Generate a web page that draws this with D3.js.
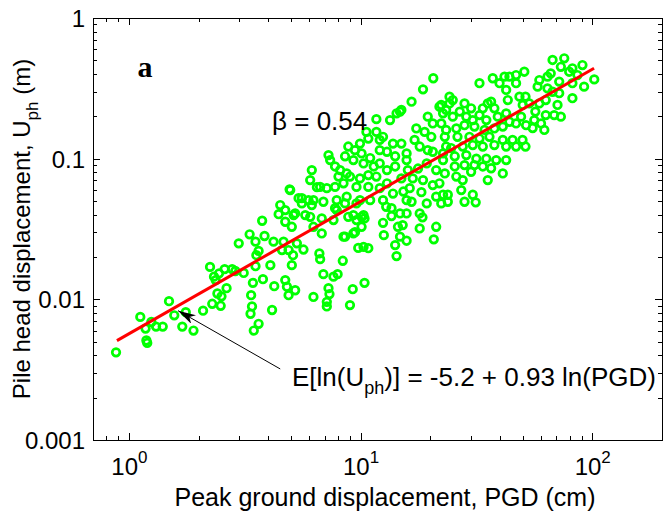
<!DOCTYPE html>
<html>
<head>
<meta charset="utf-8">
<script src="https://cdn.jsdelivr.net/npm/d3@7"></script>
<style>
  body { margin: 0; background: #fff; }
  text { font-family: "Liberation Sans", Arial, sans-serif; fill: #000; }
</style>
</head>
<body>
<div id="chart"></div>
<script>
// scatter: peak ground displacement (cm) vs pile head displacement (m)
const pgd = [
  0.88, 1.12, 1.19, 1.20, 1.18, 1.25, 1.31, 1.40, 1.49, 1.57, 1.70, 1.76,
  1.90, 2.09, 2.24, 2.29, 2.37, 2.41, 2.49, 2.51, 2.33, 2.45, 2.59, 2.64,
  2.79, 2.88, 2.98, 3.13, 3.32, 3.43, 3.37, 3.40, 3.35, 3.46, 3.63, 3.52,
  3.55, 3.63, 3.52, 3.76, 3.79, 3.85, 4.08, 4.15, 4.21, 4.24, 4.43, 4.50,
  4.58, 4.65, 4.73, 4.73, 4.81, 4.89, 4.94, 5.05, 5.14, 5.11, 5.05, 5.22,
  5.31, 5.40, 5.67, 6.26, 6.64, 6.69, 6.80, 6.91, 7.15, 7.15, 7.27, 7.34,
  7.64, 7.96, 8.38, 8.57, 9.00, 9.25, 9.31, 9.77, 10.1, 10.4, 10.3, 10.8,
  10.1, 9.6, 12.5, 12.6, 12.9, 13.6, 14.1, 14.3, 14.5, 14.8, 15.2, 15.8,
  15.8, 18.0, 18.5, 20.7, 21.2, 16.6, 19.3, 23.8, 4.73, 4.89, 5.58, 6.16,
  6.91, 7.76, 8.57, 8.85, 6.06, 5.77, 6.26, 6.80, 7.64, 8.44, 9.6, 10.4,
  9.46, 7.27, 7.39, 6.16, 4.97, 5.58, 5.96, 6.48, 20.6, 18.6, 16.6, 14.8,
  14.3, 13.4, 11.7, 21.9, 22.7, 23.4, 19.5, 20.5, 17.4, 18.9, 17.1, 20.2,
  18.0, 19.5, 20.5, 23.1, 23.4, 22.7, 21.2, 23.1, 10.6, 10.8, 11.7, 12.1,
  12.5, 12.1, 13.0, 13.8, 14.1, 15.0, 15.8, 15.8, 14.1, 16.0, 16.8, 15.0,
  16.3, 15.3, 18.6, 20.5, 18.3, 21.2, 22.3, 19.3, 17.7, 9.94, 9.46, 10.1,
  8.85, 8.57, 9.31, 10.3, 11.0, 11.4, 12.1, 13.0, 11.7, 10.8, 9.94, 8.71,
  7.76, 8.16, 8.03, 9.0, 8.44, 7.76, 9.6, 10.8, 12.1, 13.0, 13.8, 12.5,
  11.0, 9.94, 8.71, 7.89, 7.15, 6.69, 6.06, 6.26, 5.22, 15.8, 13.6, 14.8,
  18.0, 9.31, 10.3, 7.89, 15.0, 22.3, 24.2, 67.4, 75.7, 73.2, 82.1, 90.7,
  79.5, 66.2, 86.3, 102, 92.2, 82.1, 82.1, 72.0, 64.1, 59.1, 58.1, 64.1,
  67.4, 72.0, 70.8, 63.0, 59.1, 56.8, 63.0, 68.5, 73.2, 50.9, 46.9, 43.9,
  41.8, 37.2, 32.6, 42.5, 46.9, 39.8, 43.2, 48.5, 51.5, 53.5, 50.1, 56.2,
  60.1, 55.3, 62.1, 49.3, 46.9, 51.8, 36.6, 35.4, 37.8, 33.7, 32.6, 30.0,
  28.1, 25.0, 24.2, 25.0, 26.8, 28.6, 30.5, 34.9, 39.1, 42.5, 43.9, 41.1,
  37.8, 34.3, 31.0, 28.1, 25.9, 23.4, 22.3, 26.2, 29.5, 32.6, 36.0, 41.1,
  45.3, 50.0, 51.5, 46.9, 42.5, 37.8, 33.7, 30.5, 27.6, 24.6, 22.7, 25.5,
  28.6, 31.6, 34.9, 38.5, 42.5, 25.5, 28.1, 31.0, 33.7, 36.6, 41.1, 35.4,
  25.9, 27.6, 27.2, 30.5, 23.8, 21.9, 30.0, 22.7, 28.1, 31.4
];
const uph = [
  0.0042, 0.0075, 0.0051, 0.0049, 0.0062, 0.0069, 0.0064, 0.0064, 0.0097, 0.0077, 0.0064, 0.0081,
  0.0060, 0.0083, 0.0170, 0.0093, 0.0137, 0.0110, 0.0090, 0.0105, 0.0145, 0.0153, 0.0164, 0.0120,
  0.0164, 0.0159, 0.0250, 0.0154, 0.0290, 0.0131, 0.0107, 0.0089, 0.0079, 0.0060, 0.0067, 0.0257,
  0.0206, 0.0221, 0.0172, 0.0362, 0.0139, 0.0282, 0.0175, 0.0084, 0.0257, 0.0124, 0.0403, 0.0468,
  0.0224, 0.0257, 0.0356, 0.0137, 0.0123, 0.0107, 0.0605, 0.0328, 0.0397, 0.0206, 0.0175, 0.0116,
  0.0250, 0.0524, 0.0226, 0.0104, 0.0212, 0.0193, 0.0294, 0.0151, 0.0089, 0.0096, 0.0120, 0.0109,
  0.0145, 0.0151, 0.0188, 0.0279, 0.0091, 0.0118, 0.0294, 0.0232, 0.0386, 0.0131, 0.0236, 0.0231,
  0.0328, 0.0481, 0.0350, 0.0286, 0.0455, 0.0391, 0.0243, 0.0203, 0.0328, 0.0279, 0.0337, 0.0408,
  0.0261, 0.0319, 0.0383, 0.0267, 0.0328, 0.0494, 0.0481, 0.0494, 0.0431, 0.0224, 0.0481, 0.0468,
  0.0494, 0.0445, 0.0481, 0.0386, 0.0386, 0.0397, 0.0328, 0.0376, 0.0366, 0.0279, 0.0366, 0.0376,
  0.0300, 0.106, 0.0977, 0.0829, 0.0598, 0.0524, 0.0507, 0.0627, 0.373, 0.311, 0.254, 0.216,
  0.210, 0.188, 0.191, 0.234, 0.210, 0.222, 0.199, 0.178, 0.164, 0.155, 0.136, 0.143,
  0.122, 0.115, 0.112, 0.143, 0.122, 0.0977, 0.0829, 0.0785, 0.155, 0.139, 0.155, 0.136,
  0.143, 0.115, 0.112, 0.128, 0.104, 0.128, 0.109, 0.0977, 0.0880, 0.0829, 0.0724, 0.0724,
  0.0617, 0.0584, 0.0704, 0.0649, 0.0578, 0.0537, 0.0481, 0.0925, 0.0851, 0.128, 0.115, 0.109,
  0.122, 0.104, 0.0977, 0.0925, 0.101, 0.0880, 0.0925, 0.0829, 0.0746, 0.0764, 0.0724, 0.0785,
  0.0880, 0.0829, 0.0746, 0.0746, 0.0668, 0.0630, 0.0630, 0.0630, 0.0617, 0.0668, 0.0565, 0.0507,
  0.0507, 0.0507, 0.0537, 0.0507, 0.0617, 0.0630, 0.0704, 0.0507, 0.0408, 0.0507, 0.0445, 0.0408,
  0.0408, 0.0397, 0.0397, 0.0431, 0.222, 0.241, 0.276, 0.503, 0.517, 0.450, 0.439, 0.463,
  0.415, 0.404, 0.393, 0.366, 0.325, 0.344, 0.269, 0.353, 0.383, 0.362, 0.325, 0.316,
  0.299, 0.292, 0.241, 0.261, 0.247, 0.216, 0.204, 0.204, 0.199, 0.415, 0.393, 0.383,
  0.383, 0.373, 0.344, 0.308, 0.344, 0.344, 0.261, 0.276, 0.276, 0.247, 0.241, 0.188,
  0.178, 0.165, 0.160, 0.199, 0.178, 0.173, 0.254, 0.247, 0.228, 0.228, 0.204, 0.228,
  0.247, 0.261, 0.247, 0.199, 0.216, 0.199, 0.188, 0.188, 0.199, 0.210, 0.183, 0.169,
  0.164, 0.160, 0.169, 0.173, 0.164, 0.160, 0.178, 0.143, 0.143, 0.139, 0.143, 0.136,
  0.136, 0.136, 0.122, 0.122, 0.122, 0.125, 0.122, 0.125, 0.122, 0.119, 0.109, 0.104,
  0.106, 0.100, 0.100, 0.0977, 0.0977, 0.0880, 0.0900, 0.0900, 0.0880, 0.0855, 0.0785, 0.0704,
  0.0746, 0.0704, 0.0598, 0.0554, 0.0554, 0.0668, 0.0807, 0.0554, 0.0494, 0.0489
];

// fitted line end points
const fitPgd = [0.888, 101.8];
const fitUph = [0.00509, 0.439];

const xTicks = [1, 10, 100];
const xTickExponents = ["0", "1", "2"];
const yTicks = [0.001, 0.01, 0.1, 1];
const yTickLabels = ["0.001", "0.01", "0.1", "1"];

function drawChart() {
  const data = pgd.map((d, i) => ({ pgd: d, uph: uph[i] }));
  const fit = fitPgd.map((d, i) => ({ pgd: d, uph: fitUph[i] }));

  const xAccessor = (d) => d.pgd;
  const yAccessor = (d) => d.uph;

  let dimensions = {
    width: 663,
    height: 518,
    margin: { top: 18, right: 1, bottom: 78, left: 93 },
  };
  dimensions.boundedWidth =
    dimensions.width - dimensions.margin.left - dimensions.margin.right;
  dimensions.boundedHeight =
    dimensions.height - dimensions.margin.top - dimensions.margin.bottom;

  const wrapper = d3.select("#chart")
    .append("svg")
    .attr("width", dimensions.width)
    .attr("height", dimensions.height);

  const bounds = wrapper.append("g")
    .attr("transform", `translate(${dimensions.margin.left},${dimensions.margin.top})`);

  const xScale = d3.scaleLog()
    .domain([0.7, 200])
    .range([0, dimensions.boundedWidth]);

  const yScale = d3.scaleLog()
    .domain([0.001, 1])
    .range([dimensions.boundedHeight, 0]);

  // ticks point inwards on all four sides, like matlab
  const majorLen = 7;
  const minorLen = 4;
  const noLabel = () => "";

  const addAxis = (generator, transform) => {
    const g = bounds.append("g")
      .attr("transform", transform)
      .call(generator);
    g.select(".domain").remove();
    g.selectAll("line").attr("stroke", "#000").attr("shape-rendering", "crispEdges");
    return g;
  };

  const h = dimensions.boundedHeight;
  const w = dimensions.boundedWidth;

  addAxis(d3.axisBottom(xScale).tickValues(xScale.ticks()).tickSize(-minorLen).tickFormat(noLabel), `translate(0,${h})`);
  addAxis(d3.axisTop(xScale).tickValues(xScale.ticks()).tickSize(-minorLen).tickFormat(noLabel), "translate(0,0)");
  addAxis(d3.axisLeft(yScale).tickValues(yScale.ticks()).tickSize(-minorLen).tickFormat(noLabel), "translate(0,0)");
  addAxis(d3.axisRight(yScale).tickValues(yScale.ticks()).tickSize(-minorLen).tickFormat(noLabel), `translate(${w},0)`);

  const xAxis = addAxis(d3.axisBottom(xScale).tickValues(xTicks).tickSize(-majorLen), `translate(0,${h})`);
  addAxis(d3.axisTop(xScale).tickValues(xTicks).tickSize(-majorLen).tickFormat(noLabel), "translate(0,0)");
  const yAxis = addAxis(d3.axisLeft(yScale).tickValues(yTicks).tickSize(-majorLen)
    .tickFormat((d, i) => yTickLabels[i]), "translate(0,0)");
  addAxis(d3.axisRight(yScale).tickValues(yTicks).tickSize(-majorLen).tickFormat(noLabel), `translate(${w},0)`);

  yAxis.selectAll("text")
    .attr("x", -8)
    .attr("dy", "0.36em")
    .style("font-size", "24px")
    .style("font-family", "'Liberation Sans', Arial, sans-serif");

  xAxis.selectAll("text")
    .attr("y", 35)
    .attr("dy", null)
    .style("font-size", "24px")
    .style("font-family", "'Liberation Sans', Arial, sans-serif")
    .text(null)
    .each(function (d, i) {
      const t = d3.select(this);
      t.append("tspan").text("10");
      t.append("tspan").attr("dy", -12).style("font-size", "17px").text(xTickExponents[i]);
    });

  // box
  bounds.append("rect")
    .attr("width", w)
    .attr("height", h)
    .attr("fill", "none")
    .attr("stroke", "#000")
    .attr("stroke-width", 1)
    .attr("shape-rendering", "crispEdges");

  // draw data
  bounds.append("g")
    .selectAll("circle")
    .data(data)
    .join("circle")
    .attr("cx", (d) => xScale(xAccessor(d)))
    .attr("cy", (d) => yScale(yAccessor(d)))
    .attr("r", 3.8)
    .attr("fill", "none")
    .attr("stroke", "#00ff00")
    .attr("stroke-width", 2.7);

  const lineGenerator = d3.line()
    .x((d) => xScale(xAccessor(d)))
    .y((d) => yScale(yAccessor(d)));

  bounds.append("path")
    .attr("d", lineGenerator(fit))
    .attr("fill", "none")
    .attr("stroke", "#ff0000")
    .attr("stroke-width", 3);

  // annotations
  bounds.append("text")
    .attr("x", xScale(1.09))
    .attr("y", yScale(0.381))
    .style("font-family", "'Liberation Serif', 'Times New Roman', serif")
    .style("font-weight", "bold")
    .style("font-size", "30px")
    .text("a");

  bounds.append("text")
    .attr("x", xScale(4.15))
    .attr("y", yScale(0.160))
    .style("font-size", "26px")
    .text("β = 0.54");

  wrapper.append("defs").append("marker")
    .attr("id", "arrowhead")
    .attr("markerUnits", "userSpaceOnUse")
    .attr("viewBox", "0 0 18 10")
    .attr("markerWidth", 18)
    .attr("markerHeight", 10)
    .attr("refX", 18)
    .attr("refY", 5)
    .attr("orient", "auto")
    .append("path")
    .attr("d", "M0,0 L18,5 L0,10 L5,5 Z")
    .attr("fill", "#000");

  bounds.append("line")
    .attr("x1", xScale(4.50))
    .attr("y1", yScale(0.0032))
    .attr("x2", xScale(1.63))
    .attr("y2", yScale(0.00831))
    .attr("stroke", "#000")
    .attr("stroke-width", 1)
    .attr("marker-end", "url(#arrowhead)");

  const eq = bounds.append("text")
    .attr("x", xScale(5.06))
    .attr("y", yScale(0.00242))
    .style("font-size", "26px");
  eq.append("tspan").text("E[ln(U");
  eq.append("tspan").attr("dy", 8).style("font-size", "18px").text("ph");
  eq.append("tspan").attr("dy", -8).text(")] = -5.2 + 0.93 ln(PGD)");

  // axis labels
  bounds.append("text")
    .attr("x", 292)
    .attr("y", 488)
    .attr("text-anchor", "middle")
    .style("font-size", "25px")
    .text("Peak ground displacement, PGD (cm)");

  const yLabel = wrapper.append("text")
    .attr("transform", "translate(30,229) rotate(-90)")
    .attr("text-anchor", "middle")
    .style("font-size", "24px");
  yLabel.append("tspan").text("Pile head displacement, U");
  yLabel.append("tspan").attr("dy", 8).style("font-size", "17px").text("ph");
  yLabel.append("tspan").attr("dy", -8).text(" (m)");
}

drawChart();
</script>
</body>
</html>
